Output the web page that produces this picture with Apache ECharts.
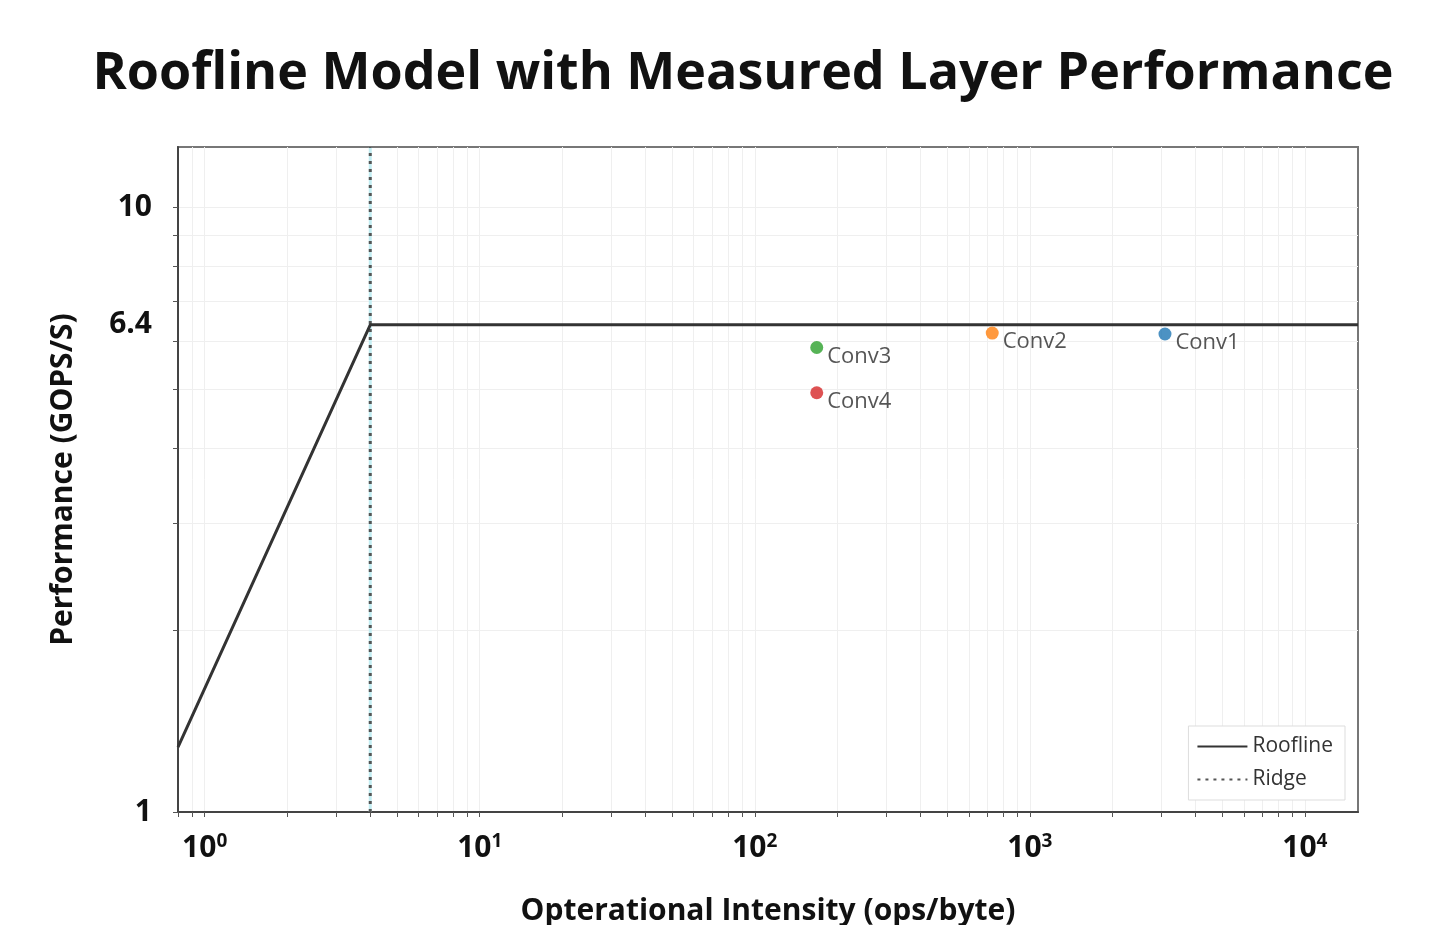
<!DOCTYPE html>
<html>
<head>
<meta charset="utf-8">
<script src="https://cdn.jsdelivr.net/npm/echarts@6/dist/echarts.min.js"></script>
<style>
html,body{margin:0;padding:0;background:#fff;}
#chart{width:1440px;height:925px;}
</style>
</head>
<body>
<div id="chart"></div>
<script>
// ---- data ----
const layerNames = ['Conv1', 'Conv2', 'Conv3', 'Conv4'];
const layerIntensity = [3100, 730, 168, 168];
const layerPerf = [6.18, 6.2, 5.87, 4.94];
const rooflineX = [0.8, 4, 15600];
const rooflineY = [1.28, 6.4, 6.4];
const ridgeX = 4;
const xMajorTicks = [1, 10, 100, 1000, 10000];
const yLabelTicks = [1, 6.4, 10];
const xRange = [0.8, 15600];
const yRange = [1, 12.6];

// ---- styles ----
const layerColors = ['#1f77b4', '#ff7f0e', '#2ca02c', '#d62728'];
const FONT = "'Open Sans', 'Noto Sans', sans-serif";

function decadeMinors(lo, hi) {
  const out = [];
  for (let e = Math.floor(Math.log10(lo)); e <= Math.ceil(Math.log10(hi)); e++) {
    for (let m = 1; m <= 9; m++) {
      const v = m * Math.pow(10, e);
      if (v >= lo && v <= hi) out.push(+v.toPrecision(6));
    }
  }
  return out;
}
const xAllTicks = decadeMinors(xRange[0], xRange[1]);
const yAllTicks = decadeMinors(yRange[0], yRange[1]);

const chart = echarts.init(document.getElementById('chart'));

const scatterSeries = layerNames.map((n, i) => ({
  name: n,
  type: 'scatter',
  data: [[layerIntensity[i], layerPerf[i]]],
  symbolSize: 13,
  itemStyle: { color: layerColors[i] },
  label: {
    show: true,
    formatter: n,
    position: 'right',
    offset: [-1, 9],
    fontFamily: FONT,
    fontSize: 22,
    color: '#2a2a2a'
  },
  z: 5
}));

chart.setOption({
  animation: false,
  backgroundColor: '#fff',
  title: {
    text: 'Roofline Model with Measured Layer Performance',
    left: 738,
    textAlign: 'center',
    top: 43,
    textStyle: { fontFamily: FONT, fontWeight: 'bold', fontSize: 52, color: '#111' }
  },
  grid: {
    left: 178, right: 82, top: 147, bottom: 113,
    outerBoundsMode: 'none',
    containLabel: false,
    show: true, borderColor: '#777', borderWidth: 2, backgroundColor: '#fff'
  },
  legend: {
    data: ['Roofline', 'Ridge'],
    orient: 'vertical',
    right: 95,
    bottom: 125,
    itemWidth: 50,
    itemHeight: 14,
    itemGap: 12,
    padding: [10, 12, 10, 8],
    borderColor: '#ddd',
    borderWidth: 1,
    backgroundColor: '#fff',
    textStyle: { fontFamily: FONT, fontSize: 21, color: '#333' }
  },
  xAxis: {
    type: 'log',
    logBase: 10,
    min: xRange[0],
    max: xRange[1],
    name: 'Opterational Intensity (ops/byte)',
    nameLocation: 'middle',
    nameGap: 84,
    nameTextStyle: { fontFamily: FONT, fontWeight: 'bold', fontSize: 30, color: '#111' },
    axisLine: { show: true, lineStyle: { color: '#444', width: 2 } },
    axisTick: { show: true, customValues: xAllTicks, length: 5, lineStyle: { color: '#555' } },
    splitLine: { show: true, lineStyle: { color: '#efefef', width: 1 } },
    axisLabel: {
      customValues: xMajorTicks,
      margin: 20,
      formatter: v => '{b|10}{s|' + Math.round(Math.log10(v)) + '}',
      rich: {
        b: { fontFamily: FONT, fontWeight: 'bold', fontSize: 30, color: '#111' },
        s: { fontFamily: FONT, fontWeight: 'bold', fontSize: 19, color: '#111', verticalAlign: 'top', padding: [0, 0, 14, 0] }
      }
    }
  },
  yAxis: {
    type: 'log',
    logBase: 10,
    min: yRange[0],
    max: yRange[1],
    name: 'Performance (GOPS/S)',
    nameLocation: 'middle',
    nameGap: 100,
    nameTextStyle: { fontFamily: FONT, fontWeight: 'bold', fontSize: 30, color: '#111' },
    axisLine: { show: true, lineStyle: { color: '#444', width: 2 } },
    axisTick: { show: true, customValues: yAllTicks, length: 5, lineStyle: { color: '#555' } },
    splitLine: { show: true, lineStyle: { color: '#efefef', width: 1 } },
    axisLabel: {
      customValues: yLabelTicks,
      margin: 26,
      fontFamily: FONT, fontWeight: 'bold', fontSize: 30, color: '#111',
      formatter: v => String(+v.toPrecision(3))
    }
  },
  series: [
    {
      name: 'RidgeShade',
      type: 'line',
      data: [[ridgeX, yRange[0]], [ridgeX, yRange[1]]],
      symbol: 'none',
      lineStyle: { color: '#c4eef3', width: 3 },
      silent: true,
      z: 2
    },
    {
      name: 'Ridge',
      type: 'line',
      data: [[ridgeX, yRange[0]], [ridgeX, yRange[1]]],
      symbol: 'none',
      lineStyle: { color: '#555', width: 3, type: [3, 5] },
      itemStyle: { color: '#666', opacity: 0 },
      z: 3
    },
    {
      name: 'Roofline',
      type: 'line',
      data: rooflineX.map((x, i) => [x, rooflineY[i]]),
      symbol: 'none',
      lineStyle: { color: '#333', width: 3 },
      itemStyle: { color: '#333', opacity: 0 },
      z: 4
    },
    ...scatterSeries
  ]
});
</script>
</body>
</html>
